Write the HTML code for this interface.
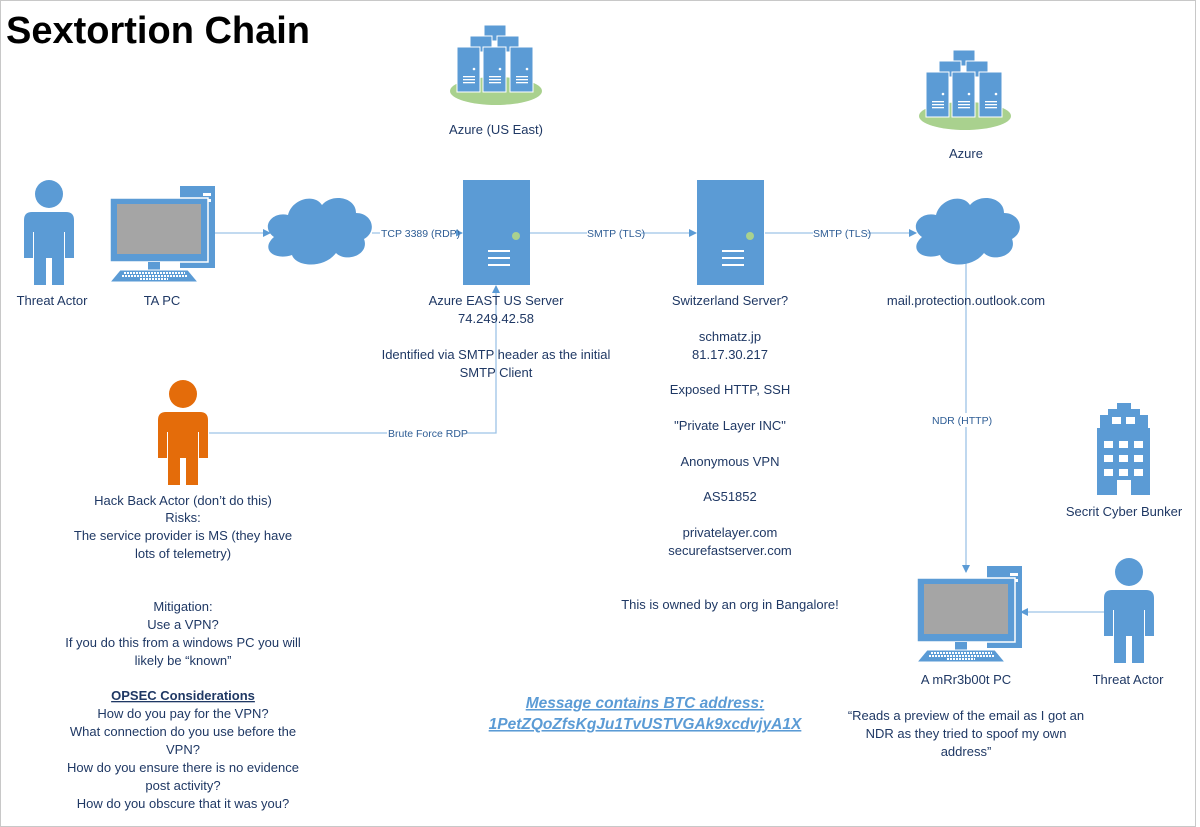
<!DOCTYPE html>
<html><head><meta charset="utf-8"><style>
html,body{margin:0;padding:0;background:#fff}
svg{display:block}
text{font-family:"Liberation Sans",sans-serif;fill:#1f3864;font-size:13px}
.s{font-size:10.5px;fill:#2e5d95}
</style></head><body>
<svg width="1200" height="827" viewBox="0 0 1200 827" xmlns="http://www.w3.org/2000/svg">
<defs>
<g id="person">
<circle cx="25" cy="14" r="14"/>
<path d="M8,32 H42 Q50,32 50,40 V78 H41 V52 H40 V105 H28 V78 H22 V105 H10 V52 H9 V78 H0 V40 Q0,32 8,32 Z"/>
</g>
<g id="pc">
<rect x="70" y="0" width="35" height="82" fill="#5b9bd5"/>
<rect x="93" y="7" width="8" height="3" fill="#fff"/><rect x="93" y="13" width="8" height="3" fill="#fff"/>
<rect x="0" y="12" width="98" height="64" fill="#5b9bd5" stroke="#fff" stroke-width="1.5"/>
<rect x="7" y="18" width="84" height="50" fill="#a5a5a5"/>
<rect x="38" y="76" width="12" height="8" fill="#5b9bd5"/>
<path d="M10,84 H78 L88,96 H0 Z" fill="#5b9bd5" stroke="#fff"/>
<path d="M14,87 H75 M12,90 H77 M30,93 H58" stroke="#fff" stroke-width="2" stroke-dasharray="2,1"/>
</g>
<g id="cloud">
<path d="M12,42 C-2,32 10,16 26,20 C30,4 52,-2 60,10 C70,-2 94,2 94,18 C110,18 116,36 102,44 C108,60 84,68 74,58 C62,74 34,72 30,60 C12,66 -2,54 12,42 Z" fill="#5b9bd5"/>
</g>
<g id="server">
<rect x="0" y="0" width="67" height="105" fill="#5b9bd5"/>
<circle cx="53" cy="56" r="4" fill="#a9d18e"/>
<rect x="25" y="70" width="22" height="2" fill="#fff"/><rect x="25" y="77" width="22" height="2" fill="#fff"/><rect x="25" y="84" width="22" height="2" fill="#fff"/>
</g>
<g id="rack">
<rect x="0" y="0" width="23" height="45" fill="#5b9bd5" stroke="#fff"/>
<circle cx="17" cy="22" r="1.3" fill="#fff"/>
<rect x="6" y="29" width="12" height="1.3" fill="#fff"/><rect x="6" y="32" width="12" height="1.3" fill="#fff"/><rect x="6" y="35" width="12" height="1.3" fill="#fff"/>
</g>
<g id="farm">
<ellipse cx="48" cy="66" rx="46" ry="14" fill="#a9d18e"/>
<rect x="36" y="0" width="22" height="16" fill="#5b9bd5" stroke="#fff"/>
<rect x="22" y="11" width="22" height="16" fill="#5b9bd5" stroke="#fff"/>
<rect x="49" y="11" width="22" height="16" fill="#5b9bd5" stroke="#fff"/>
<use href="#rack" x="9" y="22"/><use href="#rack" x="35" y="22"/><use href="#rack" x="62" y="22"/>
</g>
<marker id="ar" markerWidth="8" markerHeight="8" refX="7" refY="4" orient="auto" markerUnits="userSpaceOnUse"><path d="M0,0 L8,4 L0,8 Z" fill="#5b9bd5"/></marker>
</defs>
<rect x="0.5" y="0.5" width="1195" height="826" fill="none" stroke="#c8c8c8"/>
<text x="6" y="43" style="font-size:38px;font-weight:bold;fill:#000">Sextortion Chain</text>

<g stroke="#9dc3e6" stroke-width="1.3" fill="none">
<line x1="215" y1="233" x2="270" y2="233" marker-end="url(#ar)"/>
<line x1="372" y1="233" x2="462" y2="233" marker-end="url(#ar)"/>
<line x1="530" y1="233" x2="696" y2="233" marker-end="url(#ar)"/>
<line x1="765" y1="233" x2="916" y2="233" marker-end="url(#ar)"/>
<polyline points="209,433 496,433 496,286" marker-end="url(#ar)"/>
<line x1="966" y1="262" x2="966" y2="572" marker-end="url(#ar)"/>
<line x1="1104" y1="612" x2="1021" y2="612" marker-end="url(#ar)"/>
</g>
<rect x="380" y="226" width="76" height="14" fill="#fff"/><text class="s" x="381" y="237">TCP 3389 (RDP)</text>
<rect x="587" y="226" width="54" height="14" fill="#fff"/><text class="s" x="587" y="237">SMTP (TLS)</text>
<rect x="813" y="226" width="54" height="14" fill="#fff"/><text class="s" x="813" y="237">SMTP (TLS)</text>
<rect x="387" y="426" width="80" height="14" fill="#fff"/><text class="s" x="388" y="437">Brute Force RDP</text>
<rect x="930" y="413" width="70" height="14" fill="#fff"/><text class="s" x="932" y="424">NDR (HTTP)</text>

<use href="#person" x="24" y="180" fill="#5b9bd5"/>
<use href="#pc" x="110" y="186"/>
<use href="#cloud" x="262" y="195"/>
<use href="#server" x="463" y="180"/>
<use href="#server" x="697" y="180"/>
<use href="#cloud" x="910" y="195"/>
<use href="#farm" x="448" y="25"/>
<use href="#farm" x="917" y="50"/>
<use href="#person" x="158" y="380" fill="#e46c0a"/>
<use href="#person" x="1104" y="558" fill="#5b9bd5"/>
<use href="#pc" x="917" y="566"/>
<g fill="#5b9bd5">
<rect x="1117" y="403" width="14" height="6"/>
<rect x="1108" y="409" width="32" height="6"/>
<rect x="1100" y="415" width="48" height="13"/>
<rect x="1097" y="428" width="53" height="67"/>
</g>
<g fill="#fff">
<rect x="1112" y="417" width="9" height="7"/><rect x="1126" y="417" width="9" height="7"/>
<rect x="1104" y="441" width="9" height="7"/><rect x="1119" y="441" width="9" height="7"/><rect x="1134" y="441" width="9" height="7"/>
<rect x="1104" y="455" width="9" height="7"/><rect x="1119" y="455" width="9" height="7"/><rect x="1134" y="455" width="9" height="7"/>
<rect x="1104" y="469" width="9" height="7"/><rect x="1119" y="469" width="9" height="7"/><rect x="1134" y="469" width="9" height="7"/>
<rect x="1117" y="480" width="14" height="15"/>
</g>

<g text-anchor="middle">
<text x="52" y="305">Threat Actor</text>
<text x="162" y="305">TA PC</text>
<text x="496" y="134">Azure (US East)</text>
<text x="966" y="158">Azure</text>
<text x="496" y="305">Azure EAST US Server</text>
<text x="496" y="323">74.249.42.58</text>
<text x="496" y="359">Identified via SMTP header as the initial</text>
<text x="496" y="377">SMTP Client</text>
<text x="730" y="305">Switzerland Server?</text>
<text x="730" y="341">schmatz.jp</text>
<text x="730" y="359">81.17.30.217</text>
<text x="730" y="394">Exposed HTTP, SSH</text>
<text x="730" y="430">"Private Layer INC"</text>
<text x="730" y="466">Anonymous VPN</text>
<text x="730" y="501">AS51852</text>
<text x="730" y="537">privatelayer.com</text>
<text x="730" y="555">securefastserver.com</text>
<text x="730" y="609">This is owned by an org in Bangalore!</text>
<text x="966" y="305">mail.protection.outlook.com</text>
<text x="1124" y="516">Secrit Cyber Bunker</text>
<text x="966" y="684">A mRr3b00t PC</text>
<text x="1128" y="684">Threat Actor</text>
<text x="966" y="720">“Reads a preview of the email as I got an</text>
<text x="966" y="738">NDR as they tried to spoof my own</text>
<text x="966" y="756">address”</text>
<text x="183" y="505">Hack Back Actor (don’t do this)</text>
<text x="183" y="522">Risks:</text>
<text x="183" y="540">The service provider  is MS (they have</text>
<text x="183" y="558">lots of telemetry)</text>
<text x="183" y="611">Mitigation:</text>
<text x="183" y="629">Use a VPN?</text>
<text x="183" y="647">If you do this from a windows PC you will</text>
<text x="183" y="665">likely be “known”</text>
<text x="183" y="700" style="font-weight:bold;text-decoration:underline">OPSEC Considerations</text>
<text x="183" y="718">How do you pay for the VPN?</text>
<text x="183" y="736">What connection do you use before the</text>
<text x="183" y="754">VPN?</text>
<text x="183" y="772">How do you ensure there is no evidence</text>
<text x="183" y="790">post activity?</text>
<text x="183" y="808">How do you obscure that it was you?</text>
<text x="645" y="708" style="font-size:15.5px;font-weight:bold;font-style:italic;text-decoration:underline;fill:#5b9bd5">Message contains BTC address:</text>
<text x="645" y="729" style="font-size:15.5px;font-weight:bold;font-style:italic;text-decoration:underline;fill:#5b9bd5">1PetZQoZfsKgJu1TvUSTVGAk9xcdvjyA1X</text>
</g>
</svg>
</body></html>
